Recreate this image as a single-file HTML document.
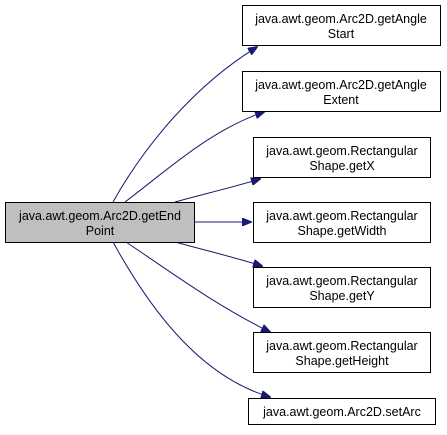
<!DOCTYPE html>
<html><head><style>
body{margin:0;background:#fff;}
svg text{font-family:"Liberation Sans",Arial,sans-serif;font-size:12.5px;text-anchor:middle;}
</style></head><body>
<svg width="447" height="430" viewBox="0 0 447 430" xmlns="http://www.w3.org/2000/svg">
<defs><marker id="a" markerWidth="10" markerHeight="8" refX="9" refY="4" orient="auto" markerUnits="userSpaceOnUse"><path d="M0,0 L10,4 L0,8 Z" fill="#191970" stroke="#191970"/></marker></defs>
<g fill="none" stroke="#191970" stroke-width="1" marker-end="url(#a)">
<path d="M113,202 C145,145 195,85 257,47"/>
<path d="M125,202 C165,172 210,130 264,112"/>
<path d="M175,202 C200,195 230,188 260,179"/>
<path d="M194,222 L251,222"/>
<path d="M175,242 C200,249 230,256 262,266"/>
<path d="M126,242 C165,268 215,305 270,332"/>
<path d="M113,242 C145,300 195,375 270,397"/>
</g>
<g stroke="#000" stroke-width="1">
<rect x="5.5" y="202.5" width="189" height="40" fill="#bfbfbf"/>
<rect x="242.5" y="5.5" width="198" height="40" fill="#fff"/>
<rect x="242.5" y="71.5" width="198" height="40" fill="#fff"/>
<rect x="253.5" y="137.5" width="177" height="40" fill="#fff"/>
<rect x="253.5" y="202.5" width="177" height="40" fill="#fff"/>
<rect x="253.5" y="267.5" width="177" height="40" fill="#fff"/>
<rect x="253.5" y="332.5" width="177" height="40" fill="#fff"/>
<rect x="248.5" y="398.5" width="187" height="26" fill="#fff"/>
</g>
<g fill="#000">
<text x="100" y="220">java.awt.geom.Arc2D.getEnd</text><text x="100" y="235">Point</text>
<text x="341" y="23">java.awt.geom.Arc2D.getAngle</text><text x="341" y="38">Start</text>
<text x="341" y="89">java.awt.geom.Arc2D.getAngle</text><text x="341" y="104">Extent</text>
<text x="342" y="155">java.awt.geom.Rectangular</text><text x="342" y="170">Shape.getX</text>
<text x="342" y="220">java.awt.geom.Rectangular</text><text x="342" y="235">Shape.getWidth</text>
<text x="342" y="285">java.awt.geom.Rectangular</text><text x="342" y="300">Shape.getY</text>
<text x="342" y="350">java.awt.geom.Rectangular</text><text x="342" y="365">Shape.getHeight</text>
<text x="342" y="416">java.awt.geom.Arc2D.setArc</text>
</g>
</svg>
</body></html>
